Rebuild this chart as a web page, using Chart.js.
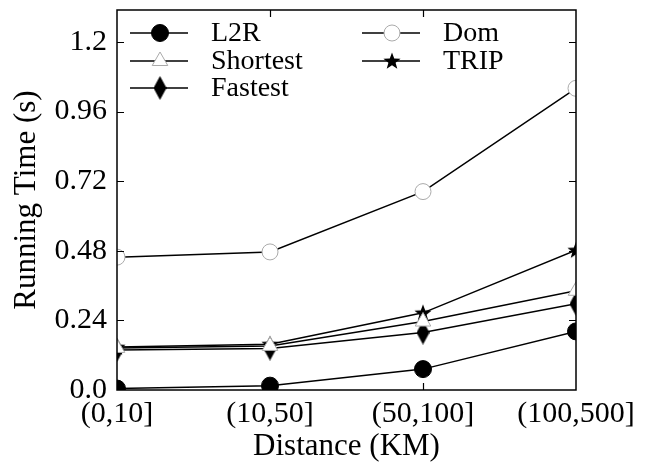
<!DOCTYPE html>
<html><head><meta charset="utf-8">
<script src="https://cdn.jsdelivr.net/npm/chart.js@4.4.1/dist/chart.umd.min.js"></script>
<style>html,body{margin:0;padding:0;background:#fff;}#wrap{width:646px;height:465px;}</style>
</head><body><div id="wrap"><canvas id="c" width="646" height="465"></canvas></div>
<script>
// ---- data ----
const categories = ['(0,10]', '(10,50]', '(50,100]', '(100,500]'];
const seriesNames = ['L2R', 'Shortest', 'Fastest', 'Dom', 'TRIP'];
const l2rValues = [0.005, 0.015, 0.072, 0.202];
const shortestValues = [0.145, 0.152, 0.236, 0.342];
const fastestValues = [0.138, 0.143, 0.198, 0.297];
const domValues = [0.458, 0.476, 0.684, 1.04];
const tripValues = [0.148, 0.158, 0.266, 0.482];
const yTickValues = [0, 0.24, 0.48, 0.72, 0.96, 1.2];
const yTickLabels = ['0.0', '0.24', '0.48', '0.72', '0.96', '1.2'];
const yMin = 0, yMax = 1.31;

// ---- styles ----
const FONT = '"Liberation Serif", "Times New Roman", serif';
function makeStar(size) {
  const c = document.createElement('canvas'); c.width = size; c.height = size;
  const g = c.getContext('2d'); const R = size / 2, r = R * 0.42;
  g.beginPath();
  for (let i = 0; i < 10; i++) {
    const a = -Math.PI / 2 + i * Math.PI / 5; const rr = i % 2 ? r : R;
    g.lineTo(R + rr * Math.cos(a), R + 0.5 + rr * Math.sin(a));
  }
  g.closePath(); g.fillStyle = '#000'; g.fill(); return c;
}
function makeDiamond(w, h) {
  const c = document.createElement('canvas'); c.width = w; c.height = h;
  const g = c.getContext('2d');
  g.beginPath(); g.moveTo(w / 2, 0); g.lineTo(w, h / 2); g.lineTo(w / 2, h); g.lineTo(0, h / 2); g.closePath();
  g.fillStyle = '#000'; g.fill(); return c;
}
const starImg = makeStar(18);
const diamondImg = makeDiamond(13, 24);

const common = { borderColor: '#000', borderWidth: 1.5, tension: 0, clip: 0, fill: false };
const datasets = [
  Object.assign({ label: seriesNames[0], data: l2rValues, pointStyle: 'circle', pointRadius: 8.5,
    pointBackgroundColor: '#000', pointBorderColor: '#000', pointBorderWidth: 1 }, common),
  Object.assign({ label: seriesNames[1], data: shortestValues, pointStyle: 'triangle', pointRadius: 9,
    pointBackgroundColor: '#fff', pointBorderColor: '#aaa', pointBorderWidth: 1 }, common),
  Object.assign({ label: seriesNames[2], data: fastestValues, pointStyle: diamondImg, pointRadius: 10,
    pointBackgroundColor: '#000', pointBorderColor: '#000', pointBorderWidth: 0 }, common),
  Object.assign({ label: seriesNames[3], data: domValues, pointStyle: 'circle', pointRadius: 8,
    pointBackgroundColor: '#fff', pointBorderColor: '#aaa', pointBorderWidth: 1 }, common),
  Object.assign({ label: seriesNames[4], data: tripValues, pointStyle: starImg, pointRadius: 9,
    pointBackgroundColor: '#000', pointBorderColor: '#000', pointBorderWidth: 0 }, common)
];

// frame + inward ticks
const framePlugin = {
  id: 'frame',
  afterDatasetsDraw(chart) {
    const { ctx, chartArea: a, scales: { x, y } } = chart;
    ctx.save();
    ctx.strokeStyle = '#000'; ctx.lineWidth = 1.5;
    ctx.strokeRect(a.left, a.top, a.right - a.left, a.bottom - a.top);
    ctx.lineWidth = 1.2;
    const tl = 7;
    ctx.beginPath();
    yTickValues.forEach(v => {
      if (v === yMin) return;
      const py = Math.round(y.getPixelForValue(v)) + 0.5;
      ctx.moveTo(a.left, py); ctx.lineTo(a.left + tl, py);
      ctx.moveTo(a.right, py); ctx.lineTo(a.right - tl, py);
    });
    categories.forEach((c, i) => {
      if (i === 0 || i === categories.length - 1) return;
      const px = Math.round(x.getPixelForValue(i)) + 0.5;
      ctx.moveTo(px, a.bottom); ctx.lineTo(px, a.bottom - tl);
      ctx.moveTo(px, a.top); ctx.lineTo(px, a.top + tl);
    });
    ctx.stroke();
    ctx.restore();
  }
};

// legend inside the plot
const legendPlugin = {
  id: 'inlegend',
  afterDraw(chart) {
    const { ctx, chartArea: a } = chart;
    const cols = [[0, 1, 2], [3, 4]];
    const colX = [a.left + 13, a.left + 245];
    const rowY = [a.top + 23, a.top + 51, a.top + 78];
    ctx.save();
    ctx.font = '28px ' + FONT;
    ctx.textBaseline = 'middle';
    ctx.textAlign = 'left';
    cols.forEach((col, ci) => {
      col.forEach((di, ri) => {
        const ds = chart.data.datasets[di];
        const x0 = colX[ci], y0 = rowY[ri];
        ctx.strokeStyle = '#000'; ctx.lineWidth = 1.5;
        ctx.beginPath(); ctx.moveTo(x0, y0); ctx.lineTo(x0 + 58, y0); ctx.stroke();
        ctx.fillStyle = ds.pointBackgroundColor; ctx.strokeStyle = ds.pointBorderColor;
        ctx.lineWidth = ds.pointBorderWidth;
        Chart.helpers.drawPoint(ctx, { pointStyle: ds.pointStyle, radius: ds.pointRadius,
          borderWidth: ds.pointBorderWidth, rotation: 0 }, x0 + 30, y0);
        ctx.fillStyle = '#000';
        ctx.fillText(ds.label, x0 + 81, y0 + 1);
      });
    });
    ctx.restore();
  }
};

new Chart(document.getElementById('c'), {
  type: 'line',
  data: { labels: categories, datasets },
  plugins: [framePlugin, legendPlugin],
  options: {
    responsive: false, animation: false, devicePixelRatio: 1,
    layout: { padding: { left: 0, right: 70, top: 10, bottom: 0 } },
    plugins: { legend: { display: false }, tooltip: { enabled: false } },
    scales: {
      x: {
        type: 'category', offset: false,
        grid: { display: false, drawTicks: false }, border: { display: false },
        ticks: { color: '#000', font: { family: FONT, size: 30 }, padding: 6, maxRotation: 0, autoSkip: false },
        title: { display: true, text: 'Distance (KM)', color: '#000', font: { family: FONT, size: 31 }, padding: { top: 0, bottom: 0 } },
        afterFit(s) { s.height = 75; }
      },
      y: {
        min: yMin, max: yMax,
        grid: { display: false, drawTicks: false }, border: { display: false },
        afterBuildTicks(s) { s.ticks = yTickValues.map(v => ({ value: v })); },
        ticks: { color: '#000', font: { family: FONT, size: 30 }, padding: 10,
          callback: (v, i) => yTickLabels[i] },
        title: { display: true, text: 'Running Time (s)', color: '#000', font: { family: FONT, size: 31 }, padding: { top: 8, bottom: 0 } },
        afterFit(s) { s.width = 117; s.paddingTop = 0; s.paddingBottom = 0; }
      }
    }
  }
});
</script>
</body></html>
